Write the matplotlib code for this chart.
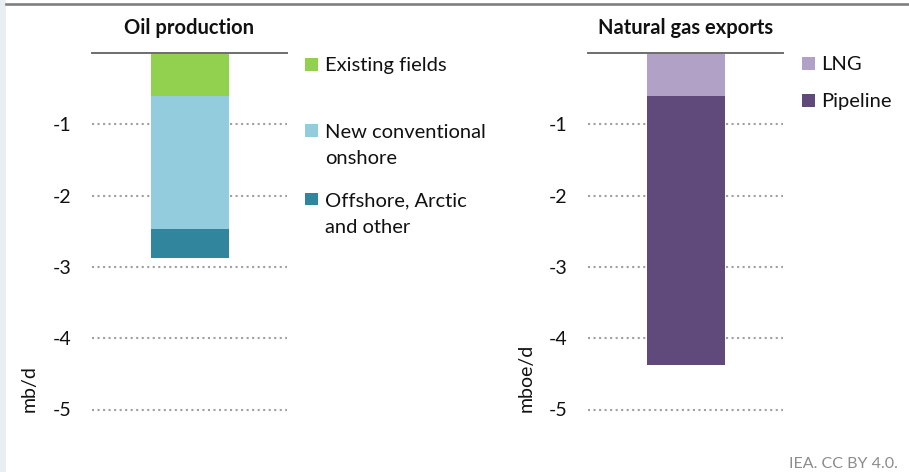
import matplotlib
matplotlib.use("Agg")
import matplotlib.pyplot as plt
from matplotlib.patches import Rectangle
from matplotlib.lines import Line2D

plt.rcParams['font.family'] = ['Lato', 'DejaVu Sans']

# ---- data ----
oil_series = ["Existing fields", "New conventional\nonshore", "Offshore, Arctic\nand other"]
oil_values = [-0.6, -1.87, -0.40]
oil_colors = ["#92D050", "#93CDDD", "#31859C"]

gas_series = ["LNG", "Pipeline"]
gas_values = [-0.6, -3.77]
gas_colors = ["#B2A1C7", "#604A7B"]

yticks = [-1, -2, -3, -4, -5]
ytick_labels = ["-1", "-2", "-3", "-4", "-5"]

W, H = 909, 472
fig = plt.figure(figsize=(W / 100, H / 100), dpi=100)
fig.patch.set_facecolor("white")

def fx(px):
    return px / W

def fy(py):
    return 1 - py / H

FS = 14.5
TFS = 14.0
TXT = "#111111"

# decorations: left strip and top rule
fig.add_artist(Rectangle((0, 0), fx(6), 1, transform=fig.transFigure,
                         facecolor="#E9EEF2", edgecolor="none", zorder=0))
fig.add_artist(Line2D([fx(6), 1], [fy(4), fy(4)], transform=fig.transFigure,
                      color="#7F7F7F", lw=1.9))

YMIN = -5.6
TOP = 53
PXU = 71.3
bottom_px = TOP + (-YMIN) * PXU

def make_axes(left_px, right_px, title, values, colors, ylabel, label_right_px):
    ax = fig.add_axes([fx(left_px), fy(bottom_px), (right_px - left_px) / W,
                       (bottom_px - TOP) / H])
    ax.set_xlim(-1.25, 1.25)
    ax.set_ylim(YMIN, 0)
    base = 0.0
    for v, c in zip(values, colors):
        ax.bar(0, v, bottom=base, width=1.0, color=c, edgecolor="none", zorder=3)
        base += v
    ax.set_yticks(yticks)
    ax.set_yticklabels(ytick_labels)
    ax.set_xticks([])
    ax.tick_params(axis="y", length=0, pad=14.5, labelsize=TFS, labelcolor=TXT)
    for s in ax.spines.values():
        s.set_visible(False)
    for t in yticks:
        ax.axhline(t, color="#A0A0A0", lw=1.5, ls=(0, (1, 1.65)), zorder=1)
    ax.axhline(0, color="#6E6E6E", lw=1.4, zorder=4, clip_on=False)
    ax.set_title(title, fontsize=FS, fontweight="bold", color=TXT, pad=13.5)
    ax.set_ylabel(ylabel, fontsize=TFS, color=TXT, loc="bottom")
    ax.yaxis.set_label_coords((label_right_px - left_px) / (right_px - left_px),
                              (bottom_px - 412) / (bottom_px - TOP))
    ax.set_facecolor("none")
    return ax

ax1 = make_axes(92, 287, "Oil production", oil_values, oil_colors, "mb/d", 38)
ax2 = make_axes(588, 783, "Natural gas exports", gas_values, gas_colors, "mboe/d", 535)

def legend(series, colors, sq_x, text_x, centers):
    for lab, c, cy in zip(series, colors, centers):
        fig.add_artist(Rectangle((fx(sq_x), fy(cy + 6)), 13 / W, 12 / H,
                                 transform=fig.transFigure, facecolor=c,
                                 edgecolor="none"))
        for i, line in enumerate(lab.split("\n")):
            fig.text(fx(text_x), fy(cy + 7 + 27 * i), line, fontsize=FS,
                     color=TXT, va="baseline", ha="left")

legend(oil_series, oil_colors, 305, 325, [64.5, 130.5, 199])
legend(gas_series, gas_colors, 802, 821, [63.5, 100.5])

fig.text(fx(898), fy(468), "IEA. CC BY 4.0.", fontsize=11.5, color="#8C8C8C",
         ha="right", va="baseline")

fig.savefig("out.png", dpi=100)
